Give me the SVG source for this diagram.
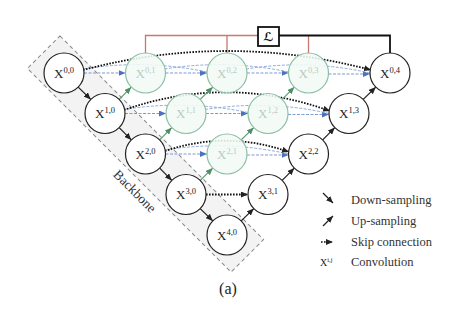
<svg xmlns="http://www.w3.org/2000/svg" width="451" height="310" viewBox="0 0 451 310">
<style>
.n{fill:#fff;stroke:#222;stroke-width:1.2}
.g{fill:#f3faf6;fill-opacity:0.88;stroke:#8dbfa6;stroke-width:1.2}
.t{font-family:"Liberation Serif","Times New Roman",serif;font-size:13px;fill:#222}
.tg{font-family:"Liberation Serif","Times New Roman",serif;font-size:13px;fill:#b9cbc2}
.sup{font-size:8.5px}
.dn{stroke:#222;stroke-width:1.3;fill:none;marker-end:url(#ak)}
.upg{stroke:#5e9e74;stroke-width:1.3;fill:none;marker-end:url(#ag)}
.upk{stroke:#222;stroke-width:1.3;fill:none;marker-end:url(#ak)}
.sk{stroke:#111;stroke-width:1.8;stroke-dasharray:1.6 1.4;fill:none;marker-end:url(#ak)}
.bl{stroke:#7c9cd4;stroke-width:1.1;stroke-dasharray:3 1.5;fill:none;marker-end:url(#ab)}
.blc{stroke:#8eaadb;stroke-width:1;stroke-dasharray:3 1.5;fill:none}
.red{stroke:#c9786c;stroke-width:1.3;fill:none}
.blk{stroke:#111;stroke-width:1.8;fill:none}
.lg{font-family:"Liberation Serif","Times New Roman",serif;font-size:12.5px;fill:#333}
</style>
<defs>
<marker id="ak" markerUnits="userSpaceOnUse" markerWidth="7" markerHeight="6" refX="7" refY="3" orient="auto"><path d="M0,0 L7,3 L0,6 z" fill="#222"/></marker>
<marker id="ag" markerUnits="userSpaceOnUse" markerWidth="7" markerHeight="6" refX="7" refY="3" orient="auto"><path d="M0,0 L7,3 L0,6 z" fill="#4f8f64"/></marker>
<marker id="ab" markerUnits="userSpaceOnUse" markerWidth="7" markerHeight="6" refX="7" refY="3" orient="auto"><path d="M0,0 L7,3 L0,6 z" fill="#4a72c0"/></marker>
</defs>
<rect width="451" height="310" fill="#fff"/>
<g id="backbone">
<rect x="-144" y="-23" width="288" height="46" transform="translate(145.5,154) rotate(45)" fill="#f3f3f3" stroke="#888" stroke-width="1" stroke-dasharray="4 3"/>
<text class="lg" font-size="13.5" text-anchor="middle" dy="0.35em" transform="translate(135,191) rotate(45)" style="font-size:13.5px">Backbone</text>
</g>
<g id="connectors">
<!-- deep supervision -->
<path class="red" d="M145.5,53 V35.5 H258 M227,35.5 V53 M308.5,35.5 V53"/>
<path class="blk" d="M279,35.5 H390 V53"/>
<!-- blue dense skip -->
<path class="bl" d="M84,73 L125.5,73"/>
<path class="bl" d="M165.5,73 L207,73"/>
<path class="bl" d="M247,73 L288.5,73"/>
<path class="bl" d="M328.5,74 L370,74"/>
<path class="blc" d="M83,69 Q145.5,59 207,72"/>
<path class="blc" d="M164.5,69 Q227,59 288.5,72"/>
<path class="blc" d="M246,69 Q308.5,59 370,73"/>
<path class="bl" d="M125,113.5 L166,113.5"/>
<path class="bl" d="M206,113.5 L248,113.5"/>
<path class="bl" d="M288,114.5 L329,114.5"/>
<path class="blc" d="M124,109.5 Q186,99.5 248,112.5"/>
<path class="blc" d="M205,109.5 Q268,99.5 329,113.5"/>
<path class="bl" d="M165.5,154 L207,154"/>
<path class="bl" d="M247,155 L288.5,155"/>
<path class="blc" d="M164.5,150 Q227,140 288.5,154"/>
<!-- black skip -->
<path class="sk" d="M83,70 Q227,32 371,70"/>
<path class="sk" d="M124,110 Q227,74 330,111"/>
<path class="sk" d="M165,151 Q227,130 289,152"/>
<path class="sk" d="M206,194.5 L248,194.5"/>
<!-- down-sampling -->
<path class="dn" d="M78.2,87.1 L90.8,99.4"/>
<path class="dn" d="M119.2,127.6 L131.3,139.9"/>
<path class="dn" d="M159.7,168.1 L171.8,180.4"/>
<path class="dn" d="M200.2,208.6 L212.8,220.9"/>
<!-- up-sampling -->
<path class="upg" d="M119.2,99.4 L131.3,87.1"/>
<path class="upg" d="M159.7,139.9 L171.8,127.6"/>
<path class="upg" d="M200.2,99.4 L212.8,87.1"/>
<path class="upg" d="M200.2,180.4 L212.8,168.1"/>
<path class="upg" d="M241.2,139.9 L253.8,127.6"/>
<path class="upg" d="M282.2,99.4 L294.3,87.1"/>
<path class="upk" d="M241.2,220.9 L253.8,208.6"/>
<path class="upk" d="M282.2,180.4 L294.3,168.1"/>
<path class="upk" d="M322.7,139.9 L334.8,127.6"/>
<path class="upk" d="M363.2,99.4 L375.8,87.1"/>
</g>
<g id="loss">
<rect x="258" y="27" width="21" height="19" fill="#fff" stroke="#111" stroke-width="1.8"/>
<text x="268.5" y="41" text-anchor="middle" style="font-family:'DejaVu Serif','DejaVu Sans',serif;font-size:12px;font-weight:bold;fill:#111">ℒ</text>
</g>
<g id="X00"><circle class="n" cx="64" cy="73" r="20"/><text class="t" x="64" y="77.5" text-anchor="middle">X<tspan class="sup" dy="-5">0,0</tspan></text></g>
<g id="X10"><circle class="n" cx="105" cy="113.5" r="20"/><text class="t" x="105" y="118" text-anchor="middle">X<tspan class="sup" dy="-5">1,0</tspan></text></g>
<g id="X20"><circle class="n" cx="145.5" cy="154" r="20"/><text class="t" x="145.5" y="158.5" text-anchor="middle">X<tspan class="sup" dy="-5">2,0</tspan></text></g>
<g id="X30"><circle class="n" cx="186" cy="194.5" r="20"/><text class="t" x="186" y="199" text-anchor="middle">X<tspan class="sup" dy="-5">3,0</tspan></text></g>
<g id="X40"><circle class="n" cx="227" cy="235" r="20"/><text class="t" x="227" y="239.5" text-anchor="middle">X<tspan class="sup" dy="-5">4,0</tspan></text></g>
<g id="X01"><circle class="g" cx="145.5" cy="73" r="20"/><text class="tg" x="145.5" y="77.5" text-anchor="middle">X<tspan class="sup" dy="-5">0,1</tspan></text></g>
<g id="X02"><circle class="g" cx="227" cy="73" r="20"/><text class="tg" x="227" y="77.5" text-anchor="middle">X<tspan class="sup" dy="-5">0,2</tspan></text></g>
<g id="X03"><circle class="g" cx="308.5" cy="73" r="20"/><text class="tg" x="308.5" y="77.5" text-anchor="middle">X<tspan class="sup" dy="-5">0,3</tspan></text></g>
<g id="X11"><circle class="g" cx="186" cy="113.5" r="20"/><text class="tg" x="186" y="118" text-anchor="middle">X<tspan class="sup" dy="-5">1,1</tspan></text></g>
<g id="X12"><circle class="g" cx="268" cy="113.5" r="20"/><text class="tg" x="268" y="118" text-anchor="middle">X<tspan class="sup" dy="-5">1,2</tspan></text></g>
<g id="X21"><circle class="g" cx="227" cy="154" r="20"/><text class="tg" x="227" y="158.5" text-anchor="middle">X<tspan class="sup" dy="-5">2,1</tspan></text></g>
<g id="X04"><circle class="n" cx="390" cy="73" r="20"/><text class="t" x="390" y="77.5" text-anchor="middle">X<tspan class="sup" dy="-5">0,4</tspan></text></g>
<g id="X13"><circle class="n" cx="349" cy="113.5" r="20"/><text class="t" x="349" y="118" text-anchor="middle">X<tspan class="sup" dy="-5">1,3</tspan></text></g>
<g id="X22"><circle class="n" cx="308.5" cy="154" r="20"/><text class="t" x="308.5" y="158.5" text-anchor="middle">X<tspan class="sup" dy="-5">2,2</tspan></text></g>
<g id="X31"><circle class="n" cx="268" cy="194.5" r="20"/><text class="t" x="268" y="199" text-anchor="middle">X<tspan class="sup" dy="-5">3,1</tspan></text></g>
<g id="legend">
<path class="dn" d="M323,193 L333,203"/>
<text class="lg" x="351" y="204">Down-sampling</text>
<path class="upk" d="M323,226 L333,216"/>
<text class="lg" x="351" y="225">Up-sampling</text>
<path class="sk" d="M321,242 L333,242" style="stroke-width:1.5"/>
<text class="lg" x="351" y="245.5">Skip connection</text>
<text class="t" x="320" y="266" style="font-size:10px">X<tspan style="font-size:6.5px" dy="-4">i,j</tspan></text>
<text class="lg" x="351" y="266">Convolution</text>
</g>
<text x="228" y="294" text-anchor="middle" style="font-family:'Liberation Serif','Times New Roman',serif;font-size:16px;fill:#222">(a)</text>
</svg>
